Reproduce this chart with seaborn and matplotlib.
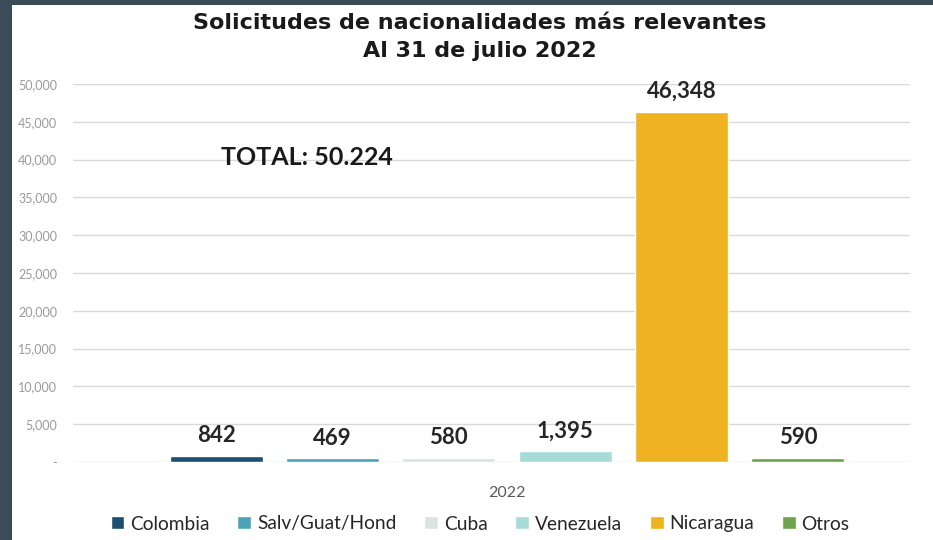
import matplotlib
matplotlib.use("Agg")
import matplotlib.pyplot as plt
import seaborn as sns
import pandas as pd
from matplotlib.patches import Rectangle

# Data
categories = ["Colombia", "Salv/Guat/Hond", "Cuba", "Venezuela", "Nicaragua", "Otros"]
values = [842, 469, 580, 1395, 46348, 590]
year_label = ["2022"] * len(categories)
colors = ["#1d4f6e", "#4ba3b9", "#dde2e5", "#a7dbd7", "#efb322", "#6ea24b"]
yticks = [0, 5000, 10000, 15000, 20000, 25000, 30000, 35000, 40000, 45000, 50000]
ytick_labels = ["-", "5,000", "10,000", "15,000", "20,000", "25,000", "30,000",
                "35,000", "40,000", "45,000", "50,000"]
title_text = "Solicitudes de nacionalidades más relevantes\nAl 31 de julio 2022"
total_text = "TOTAL: 50.224"

df = pd.DataFrame({"year": year_label, "nation": categories, "value": values})

sns.set_theme(style="white")
plt.rcParams["font.family"] = ["Lato", "DejaVu Sans"]

W, H = 933, 540
fig = plt.figure(figsize=(W / 100, H / 100), dpi=100, facecolor="#3c4b58")
fig.patches.append(Rectangle((12 / W, 0), 1, (H - 5) / H, transform=fig.transFigure,
                             facecolor="white", edgecolor="none", zorder=-5))

left, right = 73, 910
top, bottom = 84, 462
ax = fig.add_axes([left / W, 1 - bottom / H, (right - left) / W, (bottom - top) / H])
ax.set_facecolor("none")
ax.set_zorder(2)

sns.barplot(data=df, x="year", y="value", hue="nation", hue_order=categories,
            palette=colors, width=0.834, gap=0.2, saturation=1, ax=ax, legend=True,
            zorder=3)

ax.set_ylim(0, 50000)
ax.set_xlim(-(507 - left) / (right - left), (right - 507) / (right - left))
ax.set_yticks(yticks)
ax.set_yticklabels(ytick_labels, fontsize=9, color="#9a9a9a")
ax.grid(axis="y", color="#d9d9d9", linewidth=1, zorder=0)
ax.set_axisbelow(True)
ax.tick_params(axis="y", length=0, pad=11.5)
ax.tick_params(axis="x", length=0, pad=17, labelsize=11.5, labelcolor="#595959")
for s in ax.spines.values():
    s.set_visible(False)
ax.set_xlabel("")
ax.set_ylabel("")

for cont in ax.containers:
    ax.bar_label(cont, labels=[f"{v:,.0f}" for v in cont.datavalues], padding=7,
                 fontsize=16, fontweight="bold", color="#262626")

ax.annotate(total_text, xy=(221, 40300), xycoords=("figure pixels", "data"),
            fontsize=18, fontweight="bold", color="#1a1a1a", va="center", ha="left")

fig.text(480 / W, 1 - 37 / H, title_text, ha="center", va="center", fontsize=16,
         fontweight="bold", color="#1a1a1a", family=["DejaVu Sans"], linespacing=1.45)

handles, labels = ax.get_legend_handles_labels()
ax.legend(handles, labels, loc="center", bbox_to_anchor=(480 / W, 1 - 524 / H),
          bbox_transform=fig.transFigure, ncol=6, frameon=False, fontsize=13.8,
          handlelength=0.72, handleheight=0.68, handletextpad=0.3, columnspacing=1.45)

fig.savefig("out.png", dpi=100, facecolor=fig.get_facecolor())
